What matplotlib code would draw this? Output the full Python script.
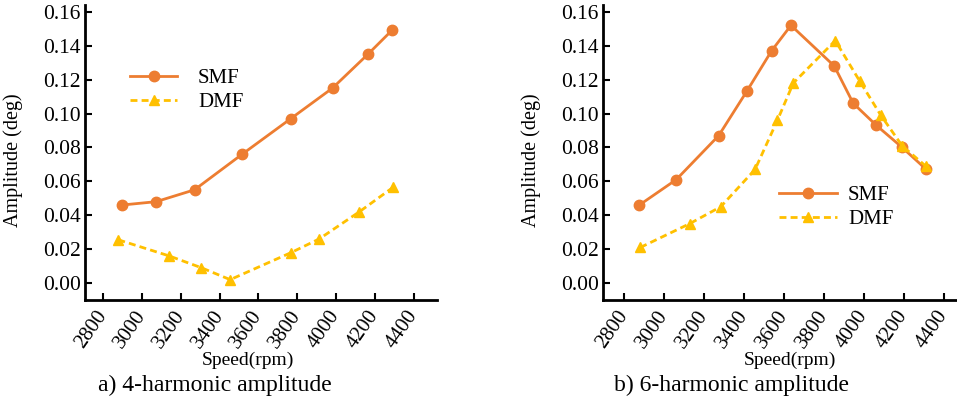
import matplotlib.pyplot as plt

plt.rcParams['font.family'] = ['Liberation Serif', 'DejaVu Serif']

# a) 4-harmonic amplitude
speed_smf_4 = [2895, 3072, 3270, 3516, 3767, 3982, 4165, 4288]
amp_smf_4 = [0.046, 0.048, 0.055, 0.076, 0.097, 0.115, 0.135, 0.149]
speed_dmf_4 = [2877, 3139, 3306, 3454, 3769, 3913, 4120, 4295]
amp_dmf_4 = [0.0255, 0.016, 0.009, 0.002, 0.018, 0.026, 0.042, 0.0565]

# b) 6-harmonic amplitude
speed_smf_6 = [2875, 3060, 3273, 3413, 3538, 3635, 3852, 3947, 4063, 4192, 4313]
amp_smf_6 = [0.046, 0.061, 0.087, 0.113, 0.137, 0.152, 0.128, 0.106, 0.093, 0.080, 0.067]
speed_dmf_6 = [2880, 3127, 3283, 3455, 3567, 3647, 3857, 3980, 4085, 4192, 4310]
amp_dmf_6 = [0.021, 0.035, 0.045, 0.067, 0.096, 0.118, 0.143, 0.119, 0.099, 0.081, 0.069]

xticks = [2800, 3000, 3200, 3400, 3600, 3800, 4000, 4200, 4400]
yticks = [0.00, 0.02, 0.04, 0.06, 0.08, 0.10, 0.12, 0.14, 0.16]

c_smf = '#ED7D31'
c_dmf = '#FFC000'

W, H = 957, 401
fig = plt.figure(figsize=(W / 100, H / 100), dpi=100)


def panel(rect, xs1, ys1, xs2, ys2, xlim, leg_loc, hl, tp, caption, cap_x):
    ax = fig.add_axes(rect)
    ax.plot(xs1, ys1, color=c_smf, lw=2, marker='o', ms=7.5, label='SMF')
    ax.plot(xs2, ys2, color=c_dmf, lw=2, ls=(0, (2.5, 1.5)), marker='^', ms=7.5, label='DMF')
    ax.set_xlim(*xlim)
    ax.set_ylim(-0.01, 0.164)
    ax.set_xticks(xticks)
    ax.set_xticklabels([str(v) for v in xticks], rotation=55, ha='right', va='center',
                       rotation_mode='anchor', fontsize=15)
    ax.set_yticks(yticks)
    ax.set_yticklabels(['%.2f' % v for v in yticks], fontsize=15.5)
    ax.tick_params(direction='in', length=5, width=1.5)
    ax.tick_params(axis='y', pad=3)
    ax.tick_params(axis='x', pad=9)
    for s in ['top', 'right']:
        ax.spines[s].set_visible(False)
    for s in ['left', 'bottom']:
        ax.spines[s].set_linewidth(2)
    ax.set_ylabel('Amplitude (deg)', fontsize=14.5)
    ax.yaxis.set_label_coords(-0.177, 0.475)
    ax.legend(loc='upper left', bbox_to_anchor=leg_loc, frameon=False,
              fontsize=15, handlelength=hl, handletextpad=tp,
              labelspacing=0.2, borderaxespad=0)
    fig.text(cap_x[0] / W, 1 - 360 / H, 'Speed(rpm)', fontsize=14,
             ha='center', va='center')
    fig.text(cap_x[1] / W, 1 - 385 / H, caption, fontsize=17,
             ha='center', va='center')
    return ax


panel([85 / W, 1 - 300 / H, 352 / W, 295 / H],
      speed_smf_4, amp_smf_4, speed_dmf_4, amp_dmf_4,
      (2705, 4521), (0.105, 0.813), 2.25, 1.0, 'a) 4-harmonic amplitude', (248, 215))
panel([603 / W, 1 - 300 / H, 353 / W, 295 / H],
      speed_smf_6, amp_smf_6, speed_dmf_6, amp_dmf_6,
      (2693, 4462), (0.476, 0.415), 2.75, 0.55, 'b) 6-harmonic amplitude', (790, 732))

fig.savefig('out.png', dpi=100)
